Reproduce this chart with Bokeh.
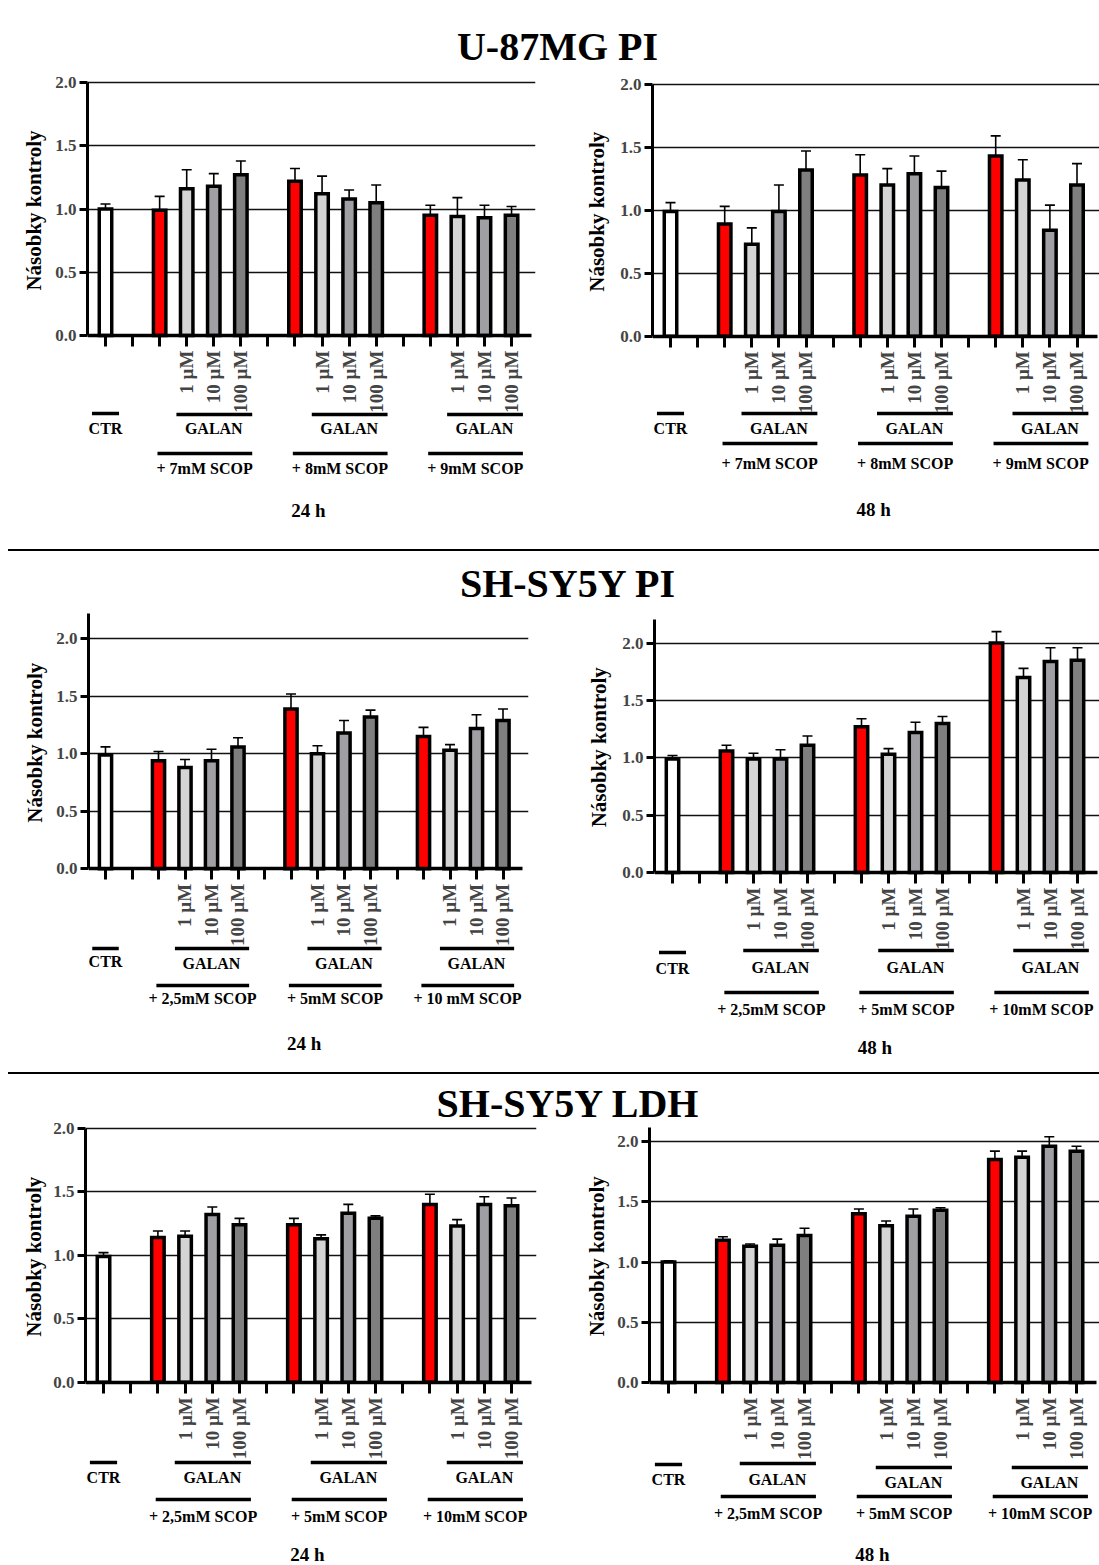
import math
from bokeh.plotting import figure
from bokeh.models import (ColumnDataSource, Whisker, TeeHead, FixedTicker,
                          PrintfTickFormatter, Div, Range1d, Title)
from bokeh.layouts import column, row
from bokeh.embed import file_html
from bokeh.resources import INLINE
from bokeh.core.properties import value

FONT = "Liberation Serif"

# ---------------- data ----------------
conc_labels = ["1 µM", "10 µM", "100 µM"]
bar_colors = ["#ffffff"] + ["#ff0000", "#d4d4d4", "#a0a0a4", "#7f7f7f"] * 3
y_label = "Násobky kontroly"

# order: CTR, then for each SCOP dose: SCOP alone, +1, +10, +100 µM GALAN
u87_pi_24h_mean = [1.00, 0.99, 1.16, 1.18, 1.27, 1.22, 1.12, 1.08, 1.05, 0.95, 0.94, 0.93, 0.95]
u87_pi_24h_err = [0.04, 0.11, 0.15, 0.10, 0.11, 0.10, 0.14, 0.07, 0.14, 0.08, 0.15, 0.10, 0.07]
u87_pi_48h_mean = [0.99, 0.89, 0.73, 0.99, 1.32, 1.28, 1.20, 1.29, 1.18, 1.43, 1.24, 0.84, 1.20]
u87_pi_48h_err = [0.07, 0.14, 0.13, 0.21, 0.15, 0.16, 0.13, 0.14, 0.13, 0.16, 0.16, 0.20, 0.17]
sh_pi_24h_mean = [0.99, 0.94, 0.88, 0.94, 1.06, 1.39, 1.00, 1.18, 1.32, 1.15, 1.03, 1.22, 1.29]
sh_pi_24h_err = [0.07, 0.08, 0.07, 0.10, 0.08, 0.13, 0.07, 0.11, 0.06, 0.08, 0.05, 0.12, 0.10]
sh_pi_48h_mean = [0.99, 1.06, 0.99, 0.99, 1.11, 1.27, 1.03, 1.22, 1.30, 2.00, 1.70, 1.84, 1.85]
sh_pi_48h_err = [0.03, 0.05, 0.05, 0.08, 0.08, 0.07, 0.05, 0.09, 0.06, 0.10, 0.08, 0.12, 0.11]
sh_ldh_24h_mean = [0.99, 1.14, 1.15, 1.32, 1.24, 1.24, 1.13, 1.33, 1.29, 1.40, 1.23, 1.40, 1.39]
sh_ldh_24h_err = [0.03, 0.05, 0.04, 0.06, 0.05, 0.05, 0.03, 0.07, 0.02, 0.08, 0.05, 0.06, 0.06]
sh_ldh_48h_mean = [1.00, 1.18, 1.13, 1.14, 1.22, 1.40, 1.30, 1.38, 1.43, 1.85, 1.87, 1.96, 1.92]
sh_ldh_48h_err = [0.01, 0.03, 0.02, 0.05, 0.06, 0.04, 0.04, 0.06, 0.02, 0.07, 0.05, 0.08, 0.04]

scop_u87 = ["+ 7mM SCOP", "+ 8mM SCOP", "+ 9mM SCOP"]
scop_sh_pi_24 = ["+ 2,5mM SCOP", "+ 5mM SCOP", "+ 10 mM SCOP"]
scop_sh = ["+ 2,5mM SCOP", "+ 5mM SCOP", "+ 10mM SCOP"]
y_ticks = [0.0, 0.5, 1.0, 1.5, 2.0]

# bar positions on the x axis (CTR, gap, then 3 groups of 4 separated by a gap)
bar_x = [0] + [2 + 5 * g + k for g in range(3) for k in range(4)]

LEFT_W, RIGHT_W = 553, 546
PAGE_W = LEFT_W + RIGHT_W
YLAB_LEN = 157  # rendered length of the rotated y title, px

panels = [
    dict(mean=u87_pi_24h_mean, err=u87_pi_24h_err, scop=scop_u87, time="24 h",
         fx=0, fw=LEFT_W, fy=68, fh=481, bl=87, br=18, bt=6, x0=105, step=27.07,
         y0=335, unit=126.5, ytop=2.0, lab_x=35,
         ctr_line=413, ctr_text=428, gal_line=[414] * 3, gal_text=[428] * 3,
         scop_line=453, scop_text=468, time_y=510),
    dict(mean=u87_pi_48h_mean, err=u87_pi_48h_err, scop=scop_u87, time="48 h",
         fx=LEFT_W, fw=RIGHT_W, fy=68, fh=481, bl=99, br=0, bt=6, x0=670, step=27.1,
         y0=335.7, unit=126.0, ytop=2.0, lab_x=45,
         ctr_line=413, ctr_text=428, gal_line=[413] * 3, gal_text=[428] * 3,
         scop_line=443, scop_text=463, time_y=509),
    dict(mean=sh_pi_24h_mean, err=sh_pi_24h_err, scop=scop_sh_pi_24, time="24 h",
         fx=0, fw=LEFT_W, fy=605, fh=467, bl=88, br=25, bt=4, x0=105, step=26.5,
         y0=868.3, unit=115.0, ytop=2.22, lab_x=36,
         ctr_line=948, ctr_text=961, gal_line=[948] * 3, gal_text=[963] * 3,
         scop_line=985, scop_text=998, time_y=1043),
    dict(mean=sh_pi_48h_mean, err=sh_pi_48h_err, scop=scop_sh, time="48 h",
         fx=LEFT_W, fw=RIGHT_W, fy=605, fh=467, bl=101, br=0, bt=4, x0=672, step=27.0,
         y0=872, unit=114.7, ytop=2.21, lab_x=47,
         ctr_line=952, ctr_text=968, gal_line=[950] * 3, gal_text=[967] * 3,
         scop_line=992, scop_text=1009, time_y=1047),
    dict(mean=sh_ldh_24h_mean, err=sh_ldh_24h_err, scop=scop_sh, time="24 h",
         fx=0, fw=LEFT_W, fy=1120, fh=445, bl=85, br=17, bt=4, x0=103, step=27.2,
         y0=1381.7, unit=127.0, ytop=2.0, lab_x=35,
         ctr_line=1462, ctr_text=1477, gal_line=[1462] * 3, gal_text=[1477] * 3,
         scop_line=1499, scop_text=1516, time_y=1554),
    dict(mean=sh_ldh_48h_mean, err=sh_ldh_48h_err, scop=scop_sh, time="48 h",
         fx=LEFT_W, fw=RIGHT_W, fy=1120, fh=445, bl=96, br=0, bt=4, x0=668, step=27.2,
         y0=1382, unit=120.5, ytop=2.12, lab_x=45,
         ctr_line=1464, ctr_text=1479, gal_line=[1463, 1467, 1467], gal_text=[1479, 1482, 1482],
         scop_line=1496, scop_text=1513, time_y=1554),
]


def make_panel(c):
    fl = c["fx"] + c["bl"]
    fr = c["fx"] + c["fw"] - c["br"]
    xs = (fl - c["x0"]) / c["step"]
    xe = (fr - c["x0"]) / c["step"]
    ft = c["fy"] + c["bt"]
    fb = c["fy"] + c["fh"]
    ye = (c["y0"] - ft) / c["unit"]
    ys = (c["y0"] - fb) / c["unit"]
    Y = lambda px: (c["y0"] - px) / c["unit"]

    p = figure(width=c["fw"], height=c["fh"], x_range=Range1d(xs, xe), y_range=Range1d(ys, ye),
               output_backend="svg", toolbar_location=None,
               min_border_left=c["bl"], min_border_right=c["br"],
               min_border_top=c["bt"], min_border_bottom=0)
    p.outline_line_color = None
    p.background_fill_color = "white"
    p.border_fill_color = "white"

    # y axis
    ya = p.yaxis[0]
    ya.ticker = FixedTicker(ticks=y_ticks)
    ya.formatter = PrintfTickFormatter(format="%.1f")
    ya.bounds = (0, c["ytop"])
    ya.axis_line_width = 3
    ya.major_tick_line_width = 3
    ya.major_tick_out = 8
    ya.major_tick_in = 0
    ya.minor_tick_out = 0
    ya.minor_tick_in = 0
    ya.major_label_text_font = FONT
    ya.major_label_text_font_style = "bold"
    ya.major_label_text_font_size = "17px"
    ya.major_label_standoff = 3

    # y axis title as a side title, centred on the visible part of the axis
    want_px = c["y0"] - c["ytop"] / 2.0 * c["unit"]
    top_offset = (want_px - YLAB_LEN / 2.0) - ft
    standoff = max(0, 4 + 2 * (c["bl"] - 47 - c["lab_x"]))
    p.add_layout(Title(text=y_label, align="right", offset=top_offset,
                       standoff=standoff, text_font=FONT, text_font_style="bold",
                       text_font_size="21px", text_color="black"), "left")

    # x axis at y = 0
    xa = p.xaxis[0]
    xa.fixed_location = 0
    xa.ticker = FixedTicker(ticks=list(range(16)))
    overrides = {i: "" for i in range(16)}
    for g in range(3):
        for k, lab in enumerate(conc_labels):
            overrides[3 + 5 * g + k] = lab
    xa.major_label_overrides = overrides
    xa.major_label_orientation = math.pi / 2
    xa.bounds = (xs, min(15.75, xe))
    xa.axis_line_width = 3.5
    xa.major_tick_line_width = 3
    xa.major_tick_out = 11
    xa.major_tick_in = 0
    xa.minor_tick_out = 0
    xa.minor_tick_in = 0
    xa.major_label_standoff = 4
    xa.major_label_text_font = FONT
    xa.major_label_text_font_style = "bold"
    xa.major_label_text_font_size = "19px"

    p.xgrid.visible = False
    p.ygrid.ticker = FixedTicker(ticks=[t for t in y_ticks if t > 0])
    p.ygrid.grid_line_color = "#111111"
    p.ygrid.grid_line_width = 1.3

    src = ColumnDataSource(dict(
        x=bar_x, top=c["mean"], upper=[m + e for m, e in zip(c["mean"], c["err"])],
        color=bar_colors))
    p.add_layout(Whisker(source=src, base="x", upper="upper", lower="top",
                         line_width=1.6, line_color="black",
                         upper_head=TeeHead(size=10, line_width=1.6, line_color="black"),
                         lower_head=None))
    p.vbar(x="x", top="top", bottom=0, width=0.46, fill_color="color",
           line_color="black", line_width=3.5, line_join="miter", source=src)

    # annotation lines below the axis
    seg = dict(x0=[-0.5], x1=[0.5], y=[Y(c["ctr_line"])])
    for g in range(3):
        seg["x0"] += [2.62 + 5 * g, 1.92 + 5 * g]
        seg["x1"] += [5.42 + 5 * g, 5.42 + 5 * g]
        seg["y"] += [Y(c["gal_line"][g]), Y(c["scop_line"])]
    p.segment(x0="x0", y0="y", x1="x1", y1="y", source=ColumnDataSource(seg),
              line_color="black", line_width=3.5)

    txt = dict(x=[0.0], y=[Y(c["ctr_text"])], t=["CTR"])
    for g in range(3):
        txt["x"] += [4.0 + 5 * g, 3.66 + 5 * g]
        txt["y"] += [Y(c["gal_text"][g]), Y(c["scop_text"])]
        txt["t"] += ["GALAN", c["scop"][g]]
    p.text(x="x", y="y", text="t", source=ColumnDataSource(txt),
           text_font=value(FONT), text_font_style="bold", text_font_size="16px",
           text_align="center", text_baseline="middle", text_color="black")
    p.text(x=[7.5], y=[Y(c["time_y"])], text=[c["time"]],
           text_font=value(FONT), text_font_style="bold", text_font_size="19px",
           text_align="center", text_baseline="middle", text_color="black")
    return p


def title_div(text, height, pad, shift, border):
    inner = ('<div style="position:relative;width:%dpx;height:%dpx;">' % (PAGE_W, height))
    if border:
        inner += ('<div style="position:absolute;left:8px;top:0;width:%dpx;height:2px;'
                  'background:#000;"></div>' % (PAGE_W - 8))
    inner += ('<div style="position:absolute;left:%dpx;top:%dpx;width:%dpx;text-align:center;'
              "font-family:'Liberation Serif',serif;font-weight:bold;font-size:40px;"
              'line-height:40px;color:#000;white-space:nowrap;">%s</div></div>') % (shift, pad, PAGE_W, text)
    return Div(text=inner, width=PAGE_W, height=height, margin=(0, 0, 0, 0))


figs = [make_panel(c) for c in panels]
layout = column(
    title_div("U-87MG PI", 68, 27, 8, False),
    row(figs[0], figs[1]),
    title_div("SH-SY5Y PI", 56, 15, 18, True),
    row(figs[2], figs[3]),
    title_div("SH-SY5Y LDH", 48, 12, 18, True),
    row(figs[4], figs[5]),
)

open("out.html", "w").write(file_html(layout, INLINE))
